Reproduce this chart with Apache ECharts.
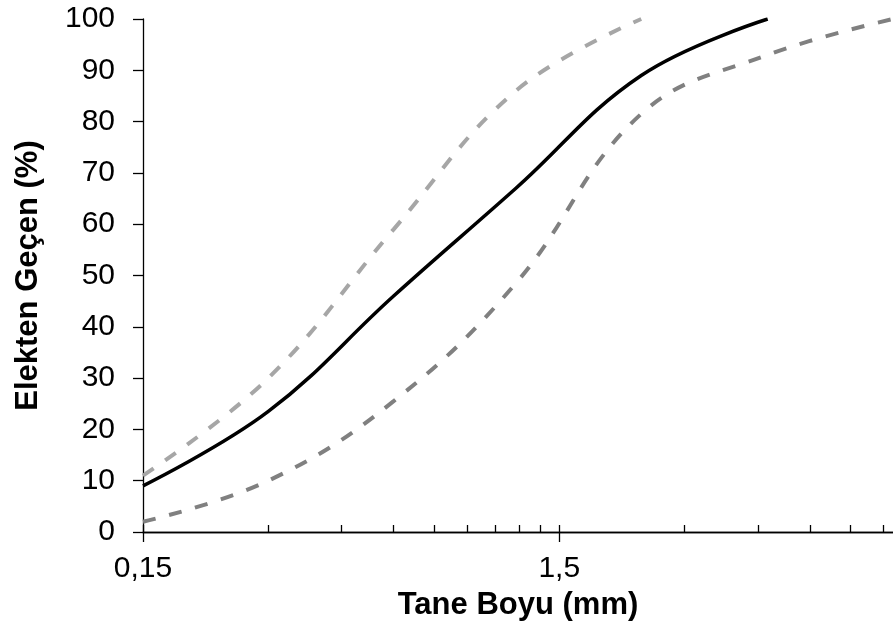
<!DOCTYPE html>
<html>
<head>
<meta charset="utf-8">
<script src="https://cdn.jsdelivr.net/npm/echarts@6/dist/echarts.min.js"></script>
<style>
  html, body { margin: 0; padding: 0; background: #fff; }
  #chart { width: 893px; height: 640px; }
</style>
</head>
<body>
<div id="chart"></div>
<script>
// elek açıklıkları (mm)
var sieves = [0.15, 0.3, 0.6, 1.18, 2.36, 4.75, 9.5];
// geçen yüzdeler
var mixPass = [9, 23.5, 46, 67, 89, 100, null];
var upperLimit = [11, 30, 59, 86, 100, null, null];
var lowerLimit = [2, 10, 25.5, 48.5, 81.5, 93, 100];
// eksen etiketleri ve ara çentikler
var xLabelValues = [0.15, 1.5];
var xMinorTicks = [0.3, 0.45, 0.6, 0.75, 0.9, 1.05, 1.2, 1.35, 3, 4.5, 6, 7.5, 9];

var font = '"Liberation Sans", Arial, sans-serif';

function pairs(vals) {
  var out = [];
  sieves.forEach(function (s, i) {
    if (vals[i] != null) out.push([s, vals[i]]);
  });
  return out;
}

var chart = echarts.init(document.getElementById('chart'), null, { renderer: 'canvas' });

var xBase = {
  type: 'log',
  logBase: 10,
  min: 0.15,
  max: 9.5,
  position: 'bottom',
  splitLine: { show: false },
  axisLine: { lineStyle: { color: '#000', width: 1.3 } }
};

chart.setOption({
  backgroundColor: '#fff',
  animation: false,
  grid: { left: 143, right: 0, top: 19, bottom: 108 },
  xAxis: [
    Object.assign({}, xBase, {
      name: 'Tane Boyu (mm)',
      nameLocation: 'middle',
      nameGap: 58,
      nameTextStyle: { fontFamily: font, fontSize: 31, fontWeight: 'bold', color: '#000' },
      axisTick: {
        inside: true, length: 7,
        customValues: xMinorTicks.concat(xLabelValues),
        lineStyle: { color: '#000', width: 1.3 }
      },
      axisLabel: {
        customValues: xLabelValues,
        margin: 22,
        fontFamily: font, fontSize: 30, color: '#000',
        formatter: function (v) {
          return String(Math.round(v * 100) / 100).replace('.', ',');
        }
      }
    }),
    Object.assign({}, xBase, {
      axisTick: {
        inside: false, length: 10,
        customValues: xLabelValues,
        lineStyle: { color: '#000', width: 1.3 }
      },
      axisLabel: { show: false }
    })
  ],
  yAxis: {
    type: 'value',
    min: 0,
    max: 100,
    interval: 10,
    name: 'Elekten Geçen (%)',
    nameLocation: 'middle',
    nameGap: 99,
    nameTextStyle: { fontFamily: font, fontSize: 31, fontWeight: 'bold', color: '#000' },
    splitLine: { show: false },
    axisLine: { show: true, lineStyle: { color: '#000', width: 1.3 } },
    axisTick: { show: true, inside: false, length: 10, lineStyle: { color: '#000', width: 1.3 } },
    axisLabel: { margin: 28, fontFamily: font, fontSize: 30, color: '#000' }
  },
  series: [
    {
      type: 'line',
      data: pairs(upperLimit),
      smooth: 0.4,
      showSymbol: false,
      lineStyle: { color: '#A6A6A6', width: 4, type: [13, 14] }
    },
    {
      type: 'line',
      data: pairs(lowerLimit),
      smooth: 0.4,
      showSymbol: false,
      lineStyle: { color: '#808080', width: 4, type: [13, 14] }
    },
    {
      type: 'line',
      data: pairs(mixPass),
      smooth: 0.4,
      showSymbol: false,
      lineStyle: { color: '#000', width: 3.5 }
    }
  ]
});
</script>
</body>
</html>
